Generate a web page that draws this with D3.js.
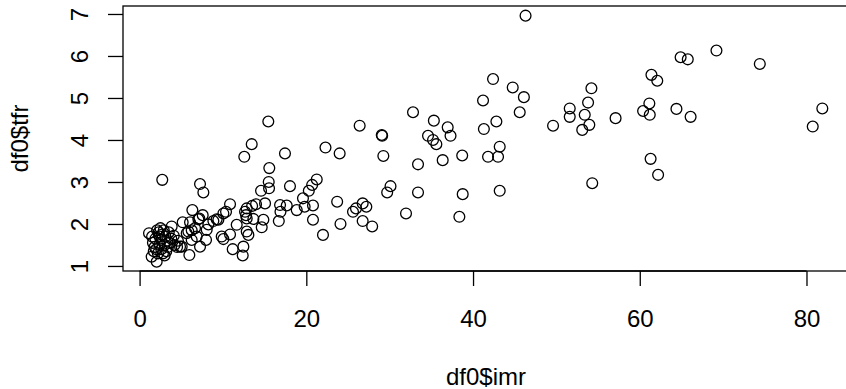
<!DOCTYPE html>
<html>
<head>
<meta charset="utf-8">
<script src="https://cdn.jsdelivr.net/npm/d3@7"></script>
<style>
html,body{margin:0;padding:0;background:#fff;}
svg{display:block;}
text{font-family:"Liberation Sans",Arial,Helvetica,sans-serif;fill:#000;}
</style>
</head>
<body>
<svg id="chart" width="846" height="389"></svg>
<script>
const imr = [1.13,1.45,2.05,1.6,1.8,1.9,2.1,2.3,2.5,2.7,2.9,3.1,3.3,2.4,2.6,2.8,3.0,3.2,3.4,3.6,2.2,2.0,1.7,3.8,3.85,4.2,4.5,4.85,4.1,3.5,2.6,3.0,2.4,1.5,4.6,5.05,
2.72,5.17,6.05,5.65,6.25,5.85,6.65,6.85,6.25,5.97,7.25,7.97,8.05,7.17,7.05,7.57,6.33,7.25,7.65,8.25,8.85,9.25,9.45,10.05,10.37,10.85,9.85,10.05,10.85,11.17,11.65,12.45,12.37,12.56,13.45,15.44,12.85,13.05,12.85,12.65,12.77,12.85,13.5,13.97,13.65,14.57,15.05,14.85,14.65,15.56,15.49,15.53,16.85,16.9,16.7,17.65,17.44,18.04,18.85,19.6,19.8,20.3,20.7,21.25,20.8,20.8,22.0,22.3,24.0,23.7,24.1,25.6,25.96,26.76,27.2,26.76,27.9,26.4,29.05,29.1,29.24,30.1,29.7,31.96,32.8,33.4,33.4,34.6,35.2,35.6,35.3,36.36,36.96,37.3,38.7,38.76,38.36,41.2,41.3,41.8,42.4,42.8,43.0,43.2,43.2,44.76,45.6,46.1,46.3,49.6,51.6,51.6,53.1,53.4,53.95,53.8,54.2,54.3,57.1,60.4,61.15,61.2,61.4,62.1,61.3,62.2,64.4,64.9,65.76,66.1,69.2,74.4,80.75,81.9];
const tfr = [1.78,1.22,1.10,1.55,1.45,1.65,1.85,1.80,1.90,1.75,1.85,1.70,1.60,1.50,1.40,1.30,1.25,1.35,1.45,1.55,1.30,1.40,1.35,1.65,1.94,1.50,1.45,1.46,1.72,1.80,1.62,1.50,1.70,1.70,1.60,1.46,
3.05,2.04,2.04,1.78,1.85,1.82,1.90,1.70,1.62,1.26,1.46,1.62,1.86,2.13,2.11,2.21,2.33,2.95,2.75,1.99,2.07,2.11,2.10,2.25,2.29,2.47,1.70,1.64,1.75,1.40,1.98,1.46,1.25,3.60,3.90,4.44,1.82,1.74,2.37,2.29,2.21,2.13,2.43,2.47,2.12,2.79,2.49,2.10,1.92,3.33,3.00,2.85,2.45,2.29,2.07,2.44,3.68,2.90,2.33,2.61,2.41,2.79,2.93,3.06,2.44,2.10,1.74,3.82,3.68,2.53,2.00,2.29,2.37,2.49,2.41,2.07,1.94,4.34,4.12,4.10,3.62,2.90,2.75,2.25,4.66,3.42,2.75,4.10,4.00,3.90,4.46,3.52,4.30,4.10,3.63,2.71,2.17,4.94,4.26,3.60,5.45,4.44,3.60,3.84,2.79,5.25,4.66,5.02,6.96,4.34,4.75,4.55,4.24,4.60,4.36,4.89,5.23,2.97,4.52,4.69,4.87,4.60,5.55,5.41,3.55,3.17,4.74,5.97,5.92,4.55,6.13,5.81,4.32,4.75];
const xTicks = [0,20,40,60,80];
const yTicks = [1,2,3,4,5,6,7];
const xLabel = "df0$imr";
const yLabel = "df0$tfr";

const svg = d3.select("#chart");
const L = 123, R = 849, T = 6, B = 271;
const x = d3.scaleLinear().domain([-1.99, 85.1]).range([L, R]);
const y = d3.scaleLinear().domain([0.88, 7.19]).range([B, T]);
const FS = 24;

// points
svg.append("g").selectAll("circle").data(imr.map((d,i)=>[d,tfr[i]])).join("circle")
  .attr("cx", d=>x(d[0])).attr("cy", d=>y(d[1])).attr("r", 5.4)
  .attr("fill","none").attr("stroke","#000").attr("stroke-width",1.3);

// box
svg.append("rect").attr("x",L).attr("y",T).attr("width",R-L).attr("height",B-T)
  .attr("fill","none").attr("stroke","#000").attr("stroke-width",1.3);

// x axis
const gx = svg.append("g").attr("transform",`translate(0,${B})`)
  .call(d3.axisBottom(x).tickValues(xTicks).tickSize(15).tickSizeOuter(0).tickFormat(d3.format("d")));
gx.select(".domain").remove();
gx.selectAll("line").attr("stroke","#000").attr("stroke-width",1.3);
gx.selectAll("text").attr("font-size",FS).attr("font-family",null)
  .attr("y", 327 - B).attr("dy", null);
svg.append("line").attr("x1",x(xTicks[0])).attr("x2",x(xTicks[xTicks.length-1])).attr("y1",B).attr("y2",B).attr("stroke","#000").attr("stroke-width",1.3);

// y axis
const gy = svg.append("g").attr("transform",`translate(${L},0)`)
  .call(d3.axisLeft(y).tickValues(yTicks).tickSize(15).tickSizeOuter(0).tickFormat(d3.format("d")));
gy.select(".domain").remove();
gy.selectAll("line").attr("stroke","#000").attr("stroke-width",1.3);
gy.selectAll("text").attr("font-size",FS).attr("font-family",null)
  .attr("x",null).attr("dy",null)
  .attr("text-anchor","middle")
  .attr("transform",`translate(${88 - L},0) rotate(-90)`);

// titles
svg.append("text").attr("x",(L+R)/2).attr("y",385).attr("text-anchor","middle").attr("font-size",FS).text(xLabel);
svg.append("text").attr("transform",`translate(28,${(T+B)/2}) rotate(-90)`).attr("text-anchor","middle").attr("font-size",FS).text(yLabel);
</script>
</body>
</html>
